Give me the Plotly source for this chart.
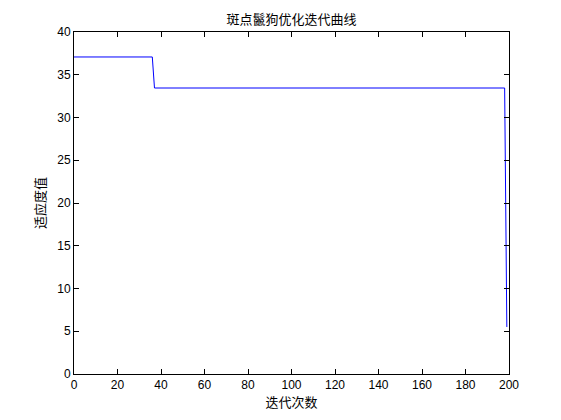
import plotly.graph_objects as go

# Breakpoints of the convergence curve (iteration, fitness)
iterations = [0, 36, 37, 198, 199]
fitness = [37.08, 37.08, 33.45, 33.45, 5.5]

x_ticks = [0, 20, 40, 60, 80, 100, 120, 140, 160, 180, 200]
y_ticks = [0, 5, 10, 15, 20, 25, 30, 35, 40]

title_text = "斑点鬣狗优化迭代曲线"
x_label = "迭代次数"
y_label = "适应度值"

font_fam = "Liberation Sans, Arial, Noto Sans CJK SC, sans-serif"
cjk_fam = "Noto Sans CJK SC, sans-serif"

W, H = 553, 412  # page body has an 8px default margin
ML, MR, MT, MB = 66, 52, 24, 46

fig = go.Figure()
fig.add_trace(go.Scatter(
    x=iterations, y=fitness, mode="lines",
    line=dict(color="#0000ff", width=1),
    showlegend=False, hoverinfo="skip",
))

axis_common = dict(
    showline=True, linecolor="black", linewidth=1, mirror="allticks",
    ticks="inside", ticklen=5, tickcolor="black", tickwidth=1,
    showgrid=False, zeroline=False,
    tickfont=dict(family=font_fam, size=12, color="black"),
)

fig.update_layout(
    width=W, height=H,
    margin=dict(l=ML, r=MR, t=MT, b=MB),
    paper_bgcolor="white", plot_bgcolor="white",
    title=dict(text=title_text, x=(ML + (W - MR - ML) / 2) / W, xanchor="center",
               y=1 - 11 / H, yanchor="middle",
               font=dict(family=cjk_fam, size=13, color="black")),
    xaxis=dict(range=[0, 200], tickvals=x_ticks, **axis_common,
               title=dict(text=x_label, standoff=1, font=dict(family=cjk_fam, size=13, color="black"))),
    yaxis=dict(range=[0, 40], tickvals=y_ticks, **axis_common,
               title=dict(text=y_label, standoff=8, font=dict(family=cjk_fam, size=13, color="black"))),
)

fig.write_html("out.html")
